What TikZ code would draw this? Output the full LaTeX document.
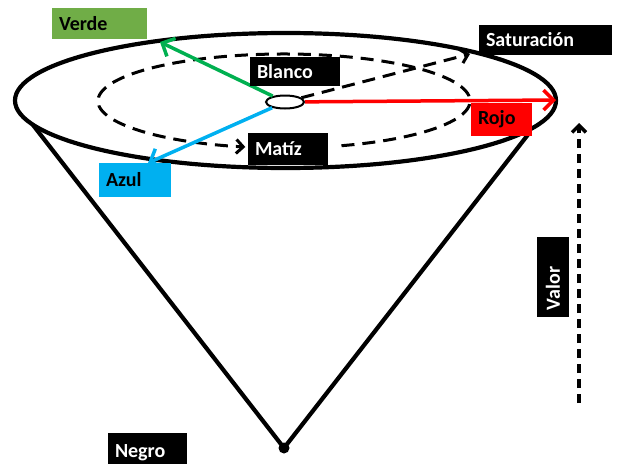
\documentclass[tikz,border=0pt]{standalone}
\usepackage{fontspec}
\setmainfont{Carlito}
\usetikzlibrary{shapes.geometric, arrows.meta}
\definecolor{verdecaja}{HTML}{70AD47}
\definecolor{verdeflecha}{HTML}{00B050}
\definecolor{azul}{HTML}{00B0F0}
\definecolor{rojo}{HTML}{FF0000}

\begin{document}
\begin{tikzpicture}[x=1pt, y=-1pt,
	etiqueta/.style={fill=black, text=white, font=\fontsize{20}{22}\selectfont\bfseries, inner xsep=7pt, inner ysep=0pt, align=left},
	flecha/.style={line width=3.5pt, -{Straight Barb[length=10pt, width=20pt]}},
	guia/.style={line width=3pt, dash pattern=on 13pt off 8pt, -{Straight Barb[length=7pt, width=14pt]}}]
			\clip (0,0) rectangle (618,463);
			\coordinate (O) at (285.5,100.5);
			\coordinate (C) at (284,101);
			\coordinate (P) at (284,448);
			\coordinate (L) at (33,125);
			\coordinate (M) at (530,132);
			\coordinate (G) at (160,42);
			\coordinate (A) at (148,163);
			\coordinate (R) at (556,100);
			\coordinate (S) at (470,54);
			\coordinate (Vi) at (579,403);
			\coordinate (Vf) at (579,123);
			
			\draw[line width=4.2pt] (O) ellipse[x radius=270.5, y radius=67.5];
			\draw[line width=4.2pt, line join=round] (L) -- (P) -- (M);
			\fill (P) circle[radius=5.5];
			
			\draw[guia] ([shift={(72:186 and 47)}]C) arc[start angle=72, end angle=-258, x radius=186, y radius=47];
			
			\node[draw, ellipse, fill=white, line width=2pt, minimum width=38pt, minimum height=13pt, inner sep=0pt] (B) at (285,102) {};
			\draw[flecha, verdeflecha] (B) -- (G);
			\draw[flecha, azul] (B) -- (A);
			\draw[flecha, rojo] (B) -- (R);
			\draw[guia] (B) -- (S);
			\draw[guia, line width=3.5pt, dash pattern=on 9pt off 6pt] (Vi) -- (Vf);
			
			\node[etiqueta, fill=verdecaja, text=black, text width=81pt, minimum height=31pt] (verde) at (99.5,23.5) {Verde};
			\node[etiqueta, text width=76pt, minimum height=29pt] (blanco) at (295,71.5) {Blanco};
			\node[etiqueta, text width=66pt, minimum height=32pt] (matiz) at (288,149) {Matíz};
			\node[etiqueta, fill=azul, text=black, text width=58pt, minimum height=34pt] (azul) at (135,180) {Azul};
			\node[etiqueta, text width=119pt, minimum height=30pt] (saturacion) at (545.5,40) {Saturación};
			\node[etiqueta, fill=rojo, text=black, text width=47pt, minimum height=33pt] (rojo) at (501.5,119.5) {Rojo};
			\node[etiqueta, rotate=90, text width=66pt, minimum height=32pt] (valor) at (553,277) {Valor};
			\node[etiqueta, text width=65pt, minimum height=40pt] (negro) at (147.5,453) {Negro};
\end{tikzpicture}
\end{document}
